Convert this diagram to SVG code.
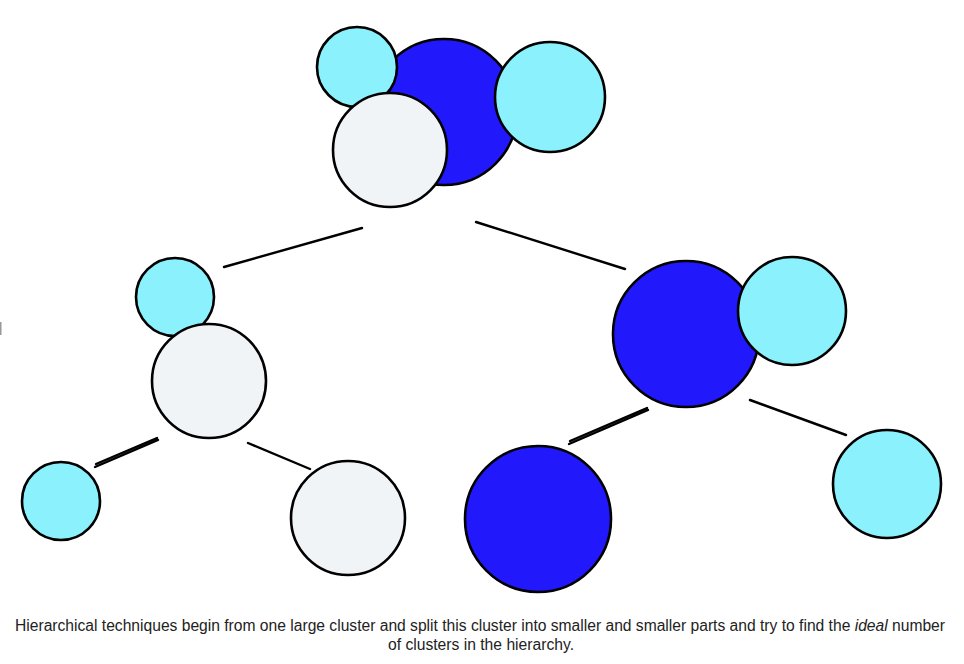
<svg xmlns="http://www.w3.org/2000/svg" width="964" height="664" viewBox="0 0 964 664">
<style>
.c{stroke:#000;stroke-width:2.6}
.b{fill:#2119fb}
.y{fill:#8bf1fc}
.w{fill:#f0f4f7}
.e{stroke:#000;stroke-width:2.4;stroke-linecap:round;fill:none}
.t{font-family:"Liberation Sans",Arial,sans-serif;font-size:16px;fill:#222;text-anchor:middle}
</style>
<rect width="964" height="664" fill="#fff"/>
<rect x="0" y="322" width="1.5" height="13" fill="#999"/>
<g id="connectors">
<path class="e" d="M224 267 L362 228"/>
<path class="e" d="M476 222 L625 269"/>
<path class="e" d="M95 467 L158 440 M96 464 L157 438"/>
<path class="e" d="M248 443 L310 469"/>
<path class="e" d="M569 444 L648 410 M570 441 L647 408"/>
<path class="e" d="M750 400 L846 435"/>
</g>
<g id="root">
<circle class="c b" cx="444" cy="112" r="73"/>
<circle class="c y" cx="357" cy="67" r="40"/>
<circle class="c w" cx="390" cy="150" r="57"/>
<circle class="c y" cx="550" cy="97" r="55"/>
</g>
<g id="left-mid">
<circle class="c y" cx="175" cy="297" r="39"/>
<circle class="c w" cx="209" cy="381" r="57"/>
</g>
<g id="right-mid">
<circle class="c b" cx="686" cy="334" r="73"/>
<circle class="c y" cx="792" cy="311" r="54"/>
</g>
<g id="leaf-cyan-left">
<circle class="c y" cx="61" cy="501" r="39"/>
</g>
<g id="leaf-white">
<circle class="c w" cx="348" cy="518" r="57"/>
</g>
<g id="leaf-blue">
<circle class="c b" cx="538" cy="519" r="73"/>
</g>
<g id="leaf-cyan-right">
<circle class="c y" cx="887" cy="484" r="54"/>
</g>
<text class="t" x="480" y="631" textLength="930" lengthAdjust="spacingAndGlyphs">Hierarchical techniques begin from one large cluster and split this cluster into smaller and smaller parts and try to find the <tspan font-style="italic">ideal</tspan> number</text>
<text class="t" x="481" y="650" textLength="186" lengthAdjust="spacingAndGlyphs">of clusters in the hierarchy.</text>
</svg>
